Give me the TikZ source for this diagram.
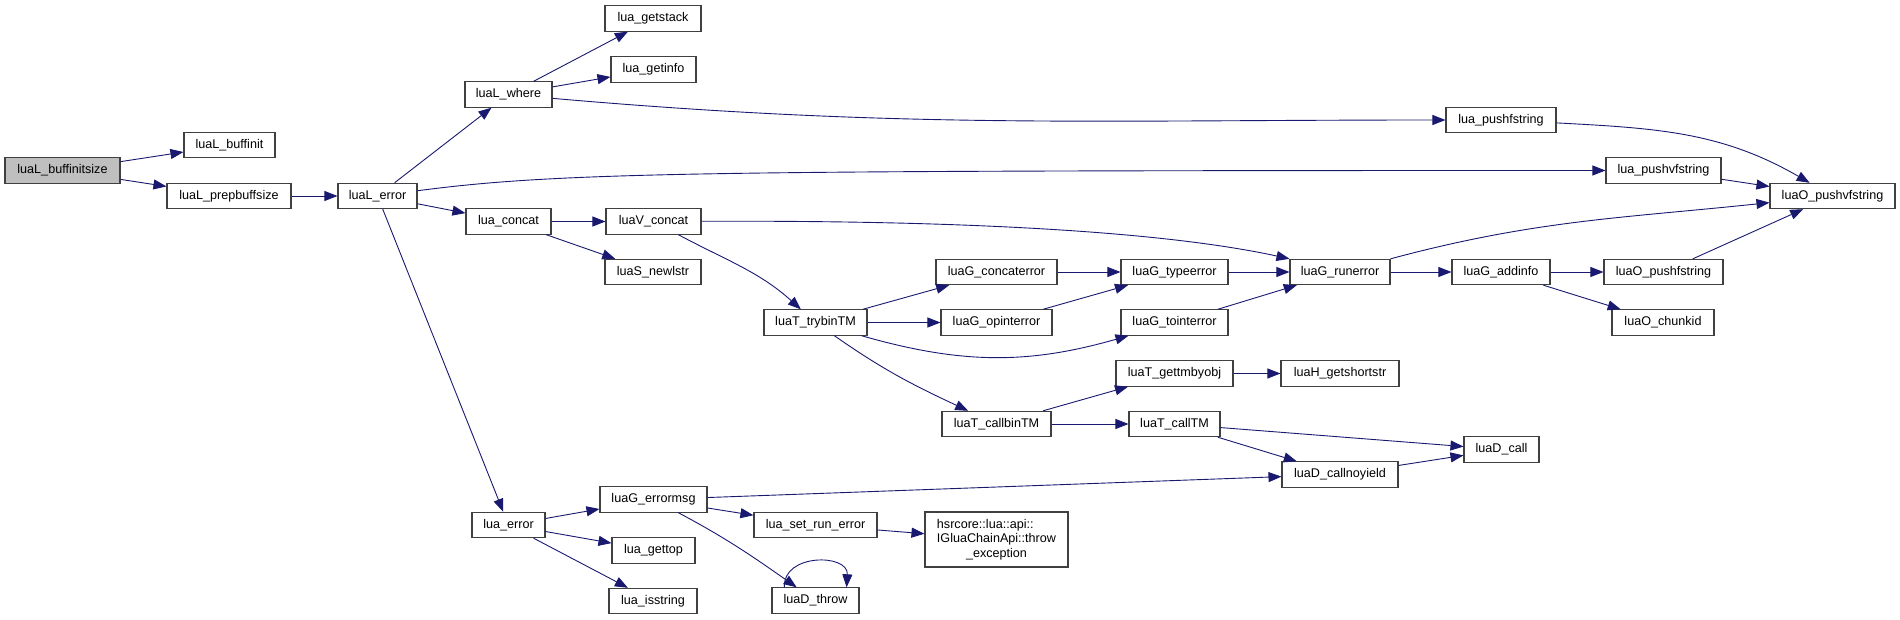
\documentclass[tikz,border=0pt]{standalone}
\usepackage{fontspec}
\setmainfont{Liberation Sans}
\usetikzlibrary{arrows.meta}
\definecolor{callc}{HTML}{191970}
\definecolor{boxc}{HTML}{404040}
\definecolor{rootc}{HTML}{BFBFBF}
\tikzset{
  fn/.style={rectangle,draw=boxc,fill=white,line width=1.1pt,inner sep=0pt,
    minimum height=25.3pt,font=\fontsize{12.6}{14.5}\selectfont},
  root/.style={fn,fill=rootc},
  call/.style={callc,line width=0.9pt,-{Triangle[length=13pt,width=10pt]}},
}

\begin{document}
\begin{tikzpicture}[x=1pt,y=-1pt]
  \useasboundingbox (0,0) rectangle (1900,620);
  % ---------- left part ----------
  \node[root,minimum width=115] (bufinitsize) at (62.5,170.5) {luaL\_buffinitsize};
  \node[fn,minimum width=91]  (bufinit)  at (229.5,145)  {luaL\_buffinit};
  \node[fn,minimum width=124] (prepbuf)  at (229,196)    {luaL\_prepbuffsize};
  \node[fn,minimum width=79]  (Lerror)   at (377.5,196)  {luaL\_error};
  \node[fn,minimum width=87]  (Lwhere)   at (508.5,94.5) {luaL\_where};
  \node[fn,minimum width=85]  (concat)   at (508.5,221.5) {lua\_concat};
  \node[fn,minimum width=73]  (luaerror) at (508.5,525)  {lua\_error};
  \node[fn,minimum width=96]  (getstack) at (653,18.5)   {lua\_getstack};
  \node[fn,minimum width=85]  (getinfo)  at (653.5,69.5) {lua\_getinfo};
  \node[fn,minimum width=95]  (Vconcat)  at (653.5,221.5) {luaV\_concat};
  \node[fn,minimum width=96]  (newlstr)  at (653,272)    {luaS\_newlstr};
  \node[fn,minimum width=107] (errmsg)   at (653.5,499.5) {luaG\_errormsg};
  \node[fn,minimum width=83]  (gettop)   at (653.5,550.5) {lua\_gettop};
  \node[fn,minimum width=88]  (isstring) at (653,601)    {lua\_isstring};
  % ---------- middle ----------
  \node[fn,minimum width=103] (trybin)     at (815.5,322.5) {luaT\_trybinTM};
  \node[fn,minimum width=123] (setrun)     at (815.5,525)   {lua\_set\_run\_error};
  \node[fn,minimum width=87]  (Dthrow)     at (815.5,600.5) {luaD\_throw};
  \node[fn,minimum width=121] (Gconcaterr) at (996.5,272)   {luaG\_concaterror};
  \node[fn,minimum width=111] (Gopinterr)  at (996.5,322.5) {luaG\_opinterror};
  \node[fn,minimum width=109] (callbin)    at (996.5,424)   {luaT\_callbinTM};
  \node[fn,minimum width=143,minimum height=55,align=center] (throwex) at (996.5,539.5)
    {\makebox[0pt][l]{hsrcore::lua::api::}\phantom{IGluaChainApi::throw}\\IGluaChainApi::throw\\\_exception};
  \node[fn,minimum width=107] (Gtypeerr)  at (1174.5,272)   {luaG\_typeerror};
  \node[fn,minimum width=107] (Gtointerr) at (1174.5,322.5) {luaG\_tointerror};
  \node[fn,minimum width=117] (gettm)     at (1174.5,373.5) {luaT\_gettmbyobj};
  \node[fn,minimum width=91]  (callTM)    at (1174.5,424)   {luaT\_callTM};
  % ---------- right part ----------
  \node[fn,minimum width=100] (Grunerr)   at (1340,272)    {luaG\_runerror};
  \node[fn,minimum width=118] (getshort)  at (1340,373.5)  {luaH\_getshortstr};
  \node[fn,minimum width=116] (callnoy)   at (1340,474.5)  {luaD\_callnoyield};
  \node[fn,minimum width=110] (pushfstr)  at (1501,120)    {lua\_pushfstring};
  \node[fn,minimum width=98]  (Gaddinfo)  at (1501,272)    {luaG\_addinfo};
  \node[fn,minimum width=75]  (Dcall)     at (1501.5,449.5) {luaD\_call};
  \node[fn,minimum width=115] (pushvfstr) at (1663.5,170.5) {lua\_pushvfstring};
  \node[fn,minimum width=119] (Opushf)    at (1663.5,272)  {luaO\_pushfstring};
  \node[fn,minimum width=102] (chunkid)   at (1663,322.5)  {luaO\_chunkid};
  \node[fn,minimum width=125] (Opushvf)   at (1832.5,196)  {luaO\_pushvfstring};

  % ---------- calls ----------
  \foreach \a/\b in {bufinitsize/bufinit,bufinitsize/prepbuf,prepbuf/Lerror,
      Lerror/Lwhere,Lerror/concat,Lerror/luaerror,Lwhere/getstack,Lwhere/getinfo,
      pushvfstr/Opushvf,concat/Vconcat,concat/newlstr,trybin/Gconcaterr,
      trybin/Gopinterr,Gconcaterr/Gtypeerr,Gopinterr/Gtypeerr,Gtypeerr/Grunerr,
      Gtointerr/Grunerr,Grunerr/Gaddinfo,Gaddinfo/Opushf,Gaddinfo/chunkid,
      Opushf/Opushvf,callbin/gettm,callbin/callTM,gettm/getshort,callTM/Dcall,
      callTM/callnoy,callnoy/Dcall,luaerror/errmsg,luaerror/gettop,
      luaerror/isstring,errmsg/callnoy,errmsg/setrun,setrun/throwex}
    \draw[call] (\a) -- (\b);
  \draw[call] (Lwhere) to[out=-5,in=180] (pushfstr);
  \draw[call] (Lerror) .. controls +(182.5,-24) and +(-963.5,0) .. (pushvfstr);
  \draw[call] (pushfstr) to[out=-3,in=150] (Opushvf);
  \draw[call] (Vconcat) .. controls +(346.5,-1.5) and +(-110,-24) .. (Grunerr.north west);
  \draw[call] (Vconcat) to[out=-28,in=138] (trybin);
  \draw[call] (trybin) to[out=-16,in=196] (Gtointerr);
  \draw[call] (trybin) to[out=-35,in=155] (callbin);
  \draw[call] (Grunerr.north east) to[out=15,in=186] (Opushvf.186);
  \draw[call] (errmsg) to[out=-28,in=145] (Dthrow);
  \draw[call] (Dthrow.157) .. controls +(-2,-34) and +(2,-34) .. (Dthrow.23);
\end{tikzpicture}
\end{document}
